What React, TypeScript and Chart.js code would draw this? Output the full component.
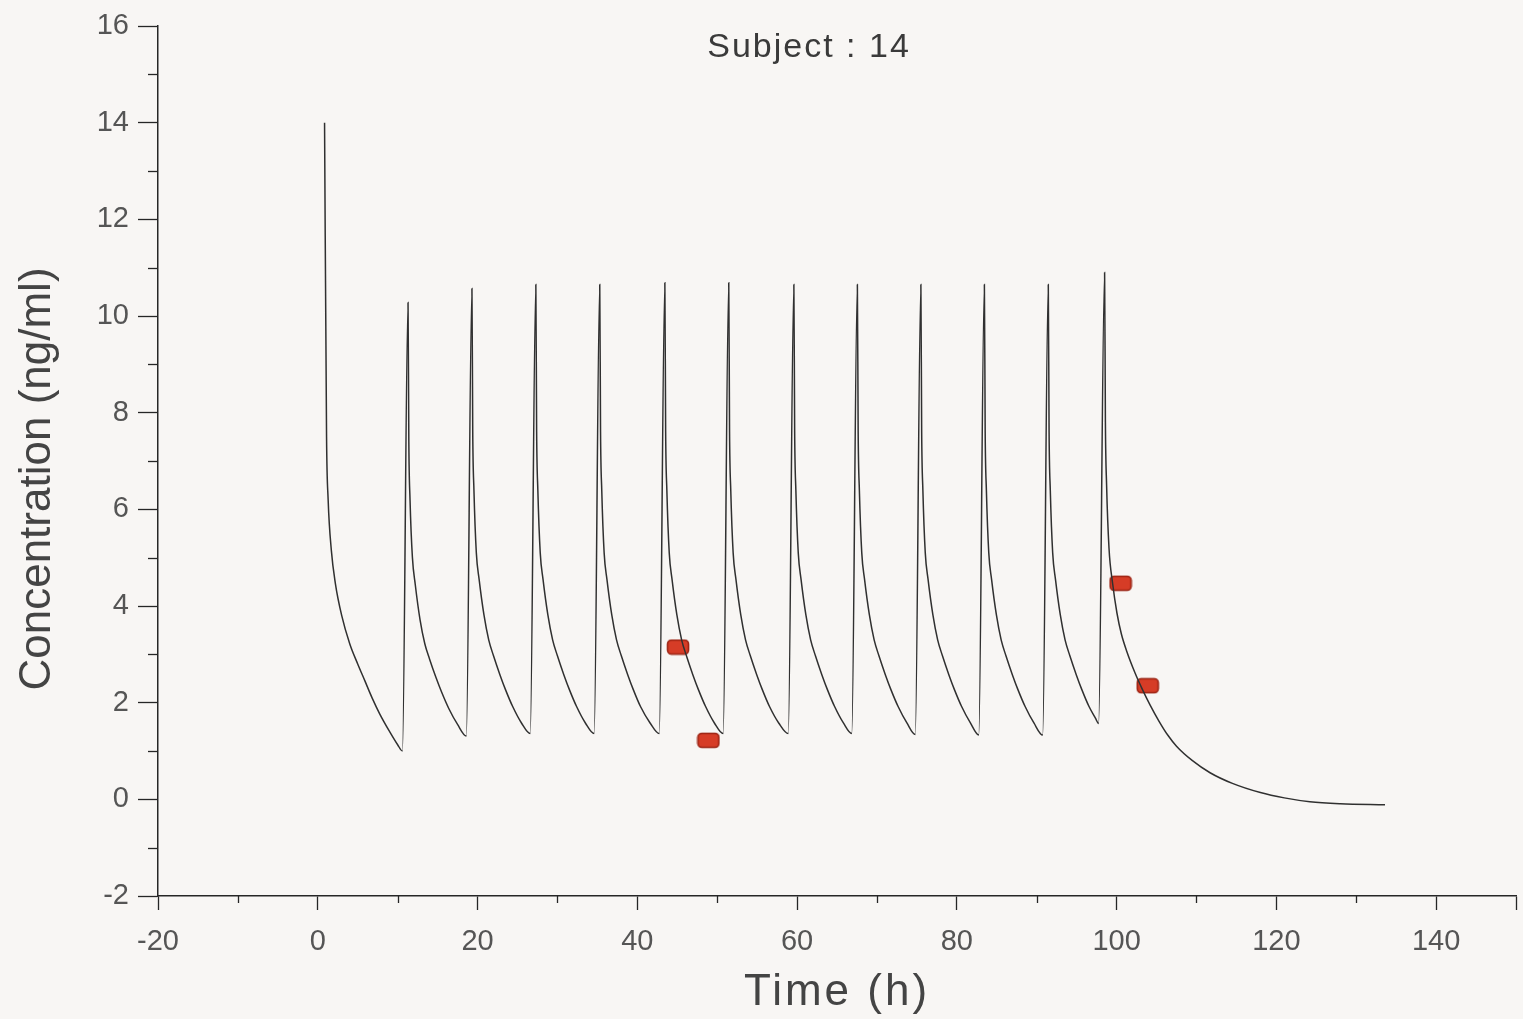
import React, { useEffect, useRef } from "react";
import { Chart, registerables } from "chart.js";

Chart.register(...registerables);

const chartTitle = "Subject : 14";
const xAxisTitle = "Time (h)";
const yAxisTitle = "Concentration (ng/ml)";

// Model-predicted concentration curve: [time (h), concentration (ng/ml)]
const modelCurve: [number, number][] = [
  [0.85, 14.0], [1.1, 7.5], [1.3, 6.2], [1.7, 5.15], [2.2, 4.47], [3.0, 3.8], [4.0, 3.22], [5.0, 2.8], [5.9, 2.45], [6.8, 2.1], [7.75, 1.77], [9.0, 1.4], [10.0, 1.13], [10.6, 1.0],
  [11.3, 10.28], [11.4, 7.4], [11.55, 6.2], [11.85, 5.0], [12.2, 4.45], [12.8, 3.72], [13.4, 3.22], [14.0, 2.9], [14.8, 2.52], [15.5, 2.22], [16.4, 1.88], [17.5, 1.55], [18.6, 1.31],
  [19.3, 10.57], [19.4, 7.6], [19.55, 6.4], [19.85, 5.1], [20.2, 4.55], [20.8, 3.82], [21.4, 3.3], [22.0, 2.97], [22.8, 2.58], [23.5, 2.27], [24.4, 1.92], [25.5, 1.58], [26.6, 1.36],
  [27.3, 10.65], [27.4, 7.6], [27.55, 6.4], [27.85, 5.1], [28.2, 4.55], [28.8, 3.82], [29.4, 3.3], [30.0, 2.97], [30.8, 2.58], [31.5, 2.27], [32.4, 1.92], [33.5, 1.58], [34.6, 1.36],
  [35.3, 10.65], [35.4, 7.6], [35.55, 6.4], [35.85, 5.1], [36.2, 4.55], [36.8, 3.82], [37.4, 3.3], [38.0, 2.97], [38.8, 2.58], [39.5, 2.27], [40.4, 1.92], [41.6, 1.58], [42.75, 1.36],
  [43.45, 10.69], [43.55, 7.6], [43.7, 6.4], [44.0, 5.1], [44.35, 4.55], [44.95, 3.82], [45.55, 3.3], [46.15, 2.97], [46.95, 2.58], [47.65, 2.27], [48.55, 1.92], [49.65, 1.58], [50.75, 1.36],
  [51.45, 10.69], [51.55, 7.6], [51.7, 6.4], [52.0, 5.1], [52.35, 4.55], [52.95, 3.82], [53.55, 3.3], [54.15, 2.97], [54.95, 2.58], [55.65, 2.27], [56.55, 1.92], [57.7, 1.58], [58.9, 1.36],
  [59.6, 10.65], [59.7, 7.6], [59.85, 6.4], [60.15, 5.1], [60.5, 4.55], [61.1, 3.82], [61.7, 3.3], [62.3, 2.97], [63.1, 2.58], [63.8, 2.27], [64.7, 1.92], [65.8, 1.58], [66.85, 1.36],
  [67.55, 10.65], [67.65, 7.6], [67.8, 6.4], [68.1, 5.1], [68.45, 4.55], [69.05, 3.82], [69.65, 3.3], [70.25, 2.97], [71.05, 2.58], [71.75, 2.27], [72.65, 1.92], [73.75, 1.58], [74.8, 1.34],
  [75.5, 10.65], [75.6, 7.6], [75.75, 6.4], [76.05, 5.1], [76.4, 4.55], [77.0, 3.82], [77.6, 3.3], [78.2, 2.97], [79.0, 2.58], [79.7, 2.27], [80.6, 1.92], [81.7, 1.58], [82.75, 1.33],
  [83.45, 10.65], [83.55, 7.6], [83.7, 6.4], [84.0, 5.1], [84.35, 4.55], [84.95, 3.82], [85.55, 3.3], [86.15, 2.97], [86.95, 2.58], [87.65, 2.27], [88.55, 1.92], [89.65, 1.58], [90.75, 1.33],
  [91.45, 10.65], [91.55, 7.6], [91.7, 6.4], [92.0, 5.1], [92.35, 4.55], [92.95, 3.82], [93.55, 3.3], [94.15, 2.97], [94.95, 2.58], [95.65, 2.27], [96.55, 1.92], [97.35, 1.68], [97.75, 1.57],
  [98.5, 10.9], [98.6, 7.8], [98.75, 6.5], [99.05, 5.2], [99.5, 4.47], [100.05, 3.85], [100.6, 3.42], [101.3, 3.05], [102.3, 2.62], [103.3, 2.25], [104.2, 1.95], [105.3, 1.62], [106.4, 1.33], [107.5, 1.1], [109.5, 0.8], [111.7, 0.55], [114.5, 0.33], [118.0, 0.14], [121.0, 0.03], [124.2, -0.05], [128.0, -0.09], [133.6, -0.11],
];

// Observed concentrations (red markers)
const observedTime = [45.1, 48.9, 100.5, 103.9];
const observedConc = [3.15, 1.22, 4.47, 2.35];

// Axis ticks
const xMin = -20;
const xMax = 150;
const xMajorStep = 20;
const xMinorTicks = [-10, 10, 30, 50, 70, 90, 110, 130];
const yMin = -2;
const yMax = 16;
const yMajorStep = 2;
const yMinorTicks = [-1, 1, 3, 5, 7, 9, 11, 13, 15];
const titleAtTime = 61.5;

const FONT = '"Liberation Sans", Arial, Helvetica, sans-serif';
const AXIS_COLOR = "#262626";

function makeMarker(): HTMLCanvasElement {
  const c = document.createElement("canvas");
  c.width = 24;
  c.height = 17;
  const g = c.getContext("2d")!;
  g.fillStyle = "#d63c26";
  g.strokeStyle = "#9c2414";
  g.lineWidth = 1.6;
  g.beginPath();
  (g as any).roundRect(1.5, 1.5, 21, 14, 4);
  g.fill();
  g.stroke();
  return c;
}

const decorPlugin = {
  id: "decor",
  afterDraw(chart: any) {
    const { ctx, chartArea, scales } = chart;
    const xs = scales.x;
    const ys = scales.y;
    ctx.save();
    ctx.strokeStyle = AXIS_COLOR;
    ctx.lineWidth = 1.3;
    for (const v of yMinorTicks) {
      const y = Math.round(ys.getPixelForValue(v)) + 0.5;
      ctx.beginPath();
      ctx.moveTo(chartArea.left - 10, y);
      ctx.lineTo(chartArea.left, y);
      ctx.stroke();
    }
    for (const v of xMinorTicks) {
      const x = Math.round(xs.getPixelForValue(v)) + 0.5;
      ctx.beginPath();
      ctx.moveTo(x, chartArea.bottom);
      ctx.lineTo(x, chartArea.bottom + 7);
      ctx.stroke();
    }
    // chart title
    ctx.fillStyle = "#3a3a3a";
    ctx.font = `34px ${FONT}`;
    ctx.textAlign = "center";
    ctx.textBaseline = "middle";
    (ctx as any).letterSpacing = "2px";
    ctx.fillText(chartTitle, xs.getPixelForValue(titleAtTime), chartArea.top + 22);
    // x axis title
    ctx.fillStyle = "#444";
    ctx.font = `44px ${FONT}`;
    (ctx as any).letterSpacing = "3px";
    ctx.fillText(xAxisTitle, xs.getPixelForValue(65), 993);
    // y axis title
    (ctx as any).letterSpacing = "0px";
    ctx.translate(38, 479);
    ctx.rotate(-Math.PI / 2);
    ctx.fillText(yAxisTitle, 0, 0);
    ctx.restore();
  },
};

export default function App() {
  const canvasRef = useRef<HTMLCanvasElement | null>(null);

  useEffect(() => {
    document.body.style.margin = "0";
    document.body.style.background = "#f8f6f4";
    const canvas = canvasRef.current;
    if (!canvas) return;
    const marker = makeMarker();
    const chart = new Chart(canvas, {
      type: "line",
      data: {
        datasets: [
          {
            label: "Model",
            data: modelCurve.map(([x, y]) => ({ x, y })),
            borderColor: "#303030",
            borderWidth: 1.5,
            pointRadius: 0,
            fill: false,
            cubicInterpolationMode: "monotone",
          },
          {
            label: "Observed",
            data: observedTime.map((x, i) => ({ x, y: observedConc[i] })),
            showLine: false,
            pointStyle: marker as any,
            pointRadius: 10,
          },
        ],
      },
      options: {
        animation: false,
        responsive: false,
        devicePixelRatio: 1,
        layout: { autoPadding: false, padding: { top: 26, right: 7, left: 0, bottom: 0 } },
        plugins: {
          legend: { display: false },
          tooltip: { enabled: false },
          title: { display: false },
        },
        scales: {
          x: {
            type: "linear",
            min: xMin,
            max: xMax,
            afterFit: (s: any) => {
              s.height = 123;
              s.paddingLeft = 0;
              s.paddingRight = 0;
            },
            border: { display: true, color: AXIS_COLOR, width: 1.5 },
            grid: {
              drawOnChartArea: false,
              drawTicks: true,
              tickLength: 14,
              tickColor: AXIS_COLOR,
              tickWidth: 1.3,
            },
            ticks: {
              stepSize: xMajorStep,
              autoSkip: false,
              maxRotation: 0,
              padding: 15,
              color: "#555",
              font: { family: FONT, size: 29 },
              callback: (v: any) => (Number(v) % xMajorStep === 0 ? String(v) : ""),
            },
            title: { display: false },
          },
          y: {
            type: "linear",
            min: yMin,
            max: yMax,
            afterFit: (s: any) => {
              s.width = 158;
              s.paddingTop = 0;
              s.paddingBottom = 0;
            },
            border: { display: true, color: AXIS_COLOR, width: 1.5 },
            grid: {
              drawOnChartArea: false,
              drawTicks: true,
              tickLength: 20,
              tickColor: AXIS_COLOR,
              tickWidth: 1.3,
            },
            ticks: {
              stepSize: yMajorStep,
              autoSkip: false,
              padding: 9,
              color: "#555",
              font: { family: FONT, size: 29 },
            },
            title: { display: false },
          },
        },
      },
      plugins: [decorPlugin],
    });
    return () => chart.destroy();
  }, []);

  return (
    <div style={{ width: 1523, height: 1019, background: "#f8f6f4" }}>
      <canvas ref={canvasRef} width={1523} height={1019} />
    </div>
  );
}
